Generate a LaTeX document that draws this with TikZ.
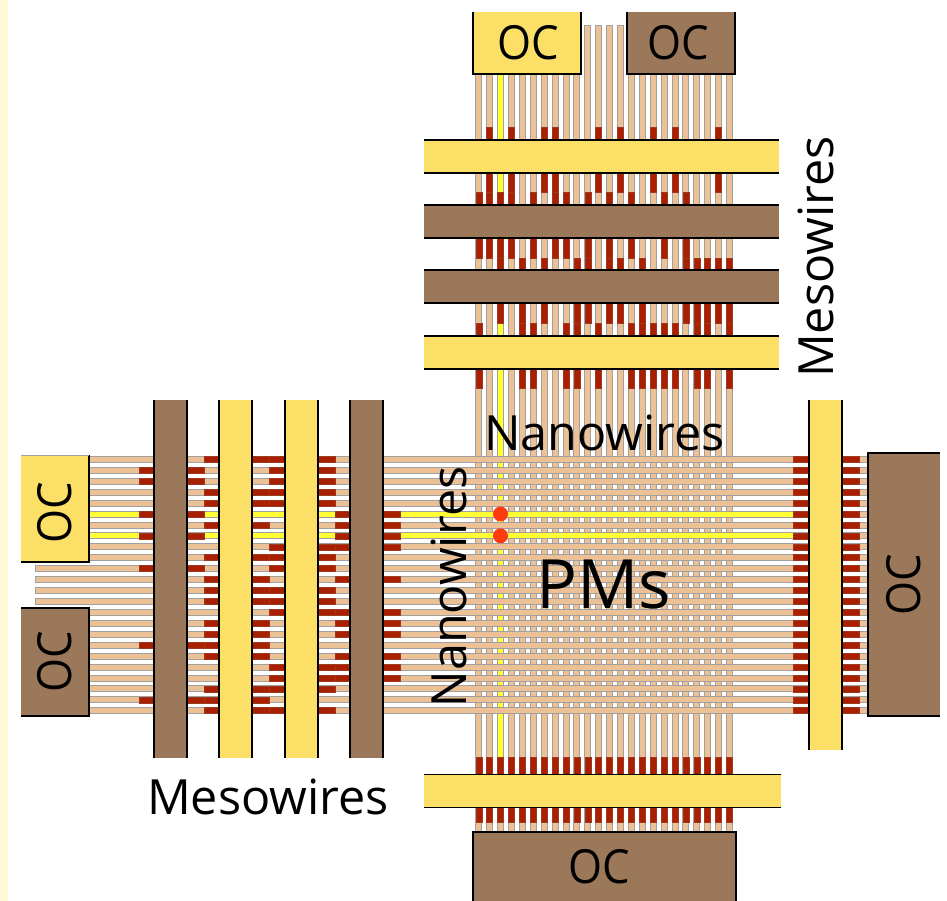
\documentclass[tikz,border=0pt]{standalone}
\usepackage{fontspec}
\usepackage{graphicx}
\setmainfont{Open Sans}
\definecolor{paleback}{HTML}{FFF8D8}
\definecolor{mesoyellow}{HTML}{FBDF66}
\definecolor{mesobrown}{HTML}{9C785A}
\definecolor{wiretan}{HTML}{ECC195}
\definecolor{wiregray}{HTML}{A0A0A0}
\definecolor{dopered}{HTML}{A82000}
\definecolor{litwire}{HTML}{FFFF33}
\definecolor{pmdot}{HTML}{FF3C10}
\tikzset{
  wirebody/.style={fill=wiretan,draw=wiregray,line width=0.7pt},
  litbody/.style={fill=litwire,draw=wiregray,line width=0.7pt},
  dopemark/.style={fill=dopered,draw=dopered!75!gray,line width=0.4pt},
  mesoedge/.style={draw=black,line width=1.8pt},
  ocbox/.style={inner sep=0pt,outer sep=0pt,anchor=north west},
  oclabel/.style={font=\fontsize{47}{50}\selectfont,text=black},
  biglabel/.style={font=\fontsize{48.5}{52}\selectfont,text=black},
}
\newcommand{\octext}{\scalebox{0.93}[1]{OC}}
\newcommand{\wx}[1]{478.7+10.9*#1}
\newcommand{\wy}[1]{459.3+10.93*#1}
\newcommand{\vmarks}[3]{\foreach \i in {#1}{\path[dopemark] ({\wx{\i}-3},#2) rectangle ({\wx{\i}+3},#3);}}
\newcommand{\hmarks}[3]{\foreach \i in {#1}{\path[dopemark] (#2,{\wy{\i}-3}) rectangle (#3,{\wy{\i}+3});}}
\newcommand{\hmeso}[4]{\path[fill=#4] (#1,#2) rectangle (#3,#2+33);
  \draw[mesoedge] (#1,#2) -- (#3,#2); \draw[mesoedge] (#1,#2+33) -- (#3,#2+33);}
\newcommand{\vmeso}[4]{\path[fill=#4] (#1,#2) rectangle (#1+33,#3);
  \draw[mesoedge] (#1,#2) -- (#1,#3); \draw[mesoedge] (#1+33,#2) -- (#1+33,#3);}
\begin{document}
\begin{tikzpicture}[x=1pt,y=-1pt]
\useasboundingbox (0,0) rectangle (947,901);
\fill[white] (0,0) rectangle (947,901);
\fill[paleback] (0,0) rectangle (8,901);
% vertical nanowires
\foreach \i in {0,...,23}{
  \pgfmathsetmacro{\top}{(\i>=10 && \i<=13) ? 25 : 60}
  \path[wirebody] ({\wx{\i}-3},\top) rectangle ({\wx{\i}+3},835);
}
\path[litbody] ({\wx{2}-3},74) rectangle ({\wx{2}+3},757);
% vertical doping marks
\vmarks{1,3,6,7,11,13,16,18,22}{127}{140}
\vmarks{1,3,6,7,11,13,16,18,22}{173}{192}
\vmarks{0,1,2,3,5,7,8,10,12,14,17,19}{192}{205}
\vmarks{0,1,2,3,5,7,8,10,12,14,17,19}{238}{258}
\vmarks{2,4,6,9,10,12,13,15,19,20,21,22,23}{258}{270}
\vmarks{2,4,6,9,10,12,13,15,19,20,21,22,23}{303}{323}
\vmarks{0,4,5,8,9,11,14,15,16,17,18,20,21,23}{323}{336}
\vmarks{0,4,5,8,9,11,14,15,16,17,18,20,21,23}{369}{388}
\vmarks{0,...,23}{757}{774}
\vmarks{0,...,23}{807}{822}
% horizontal nanowires
\foreach \i in {0,...,23}{
  \pgfmathsetmacro{\lft}{(\i>=10 && \i<=13) ? 35 : 60}
  \path[wirebody] (\lft,{\wy{\i}-3}) rectangle (880,{\wy{\i}+3});
}
\path[litbody] (85,{\wy{5}-3}) rectangle (793,{\wy{5}+3});
\path[litbody] (85,{\wy{7}-3}) rectangle (793,{\wy{7}+3});
% horizontal doping marks
\hmarks{1,2,5,7,10,17,22}{139}{154}
\hmarks{1,2,5,7,10,17,22}{187}{204}
\hmarks{0,3,4,6,9,11,12,13,15,16,17,18,21,22,23}{204}{219}
\hmarks{0,3,4,6,9,11,12,13,15,16,17,18,21,22,23}{252}{269}
\hmarks{0,1,2,3,4,8,9,10,12,13,14,19,20,21,23}{269}{285}
\hmarks{0,1,2,3,4,8,9,10,12,13,14,19,20,21,23}{318}{335}
\hmarks{5,6,7,8,11,14,15,16,18,19,20}{335}{350}
\hmarks{5,6,7,8,11,14,15,16,18,19,20}{383}{400}
\hmarks{0,...,23}{793}{809}
\hmarks{0,...,23}{842}{859}
% mesowires
\hmeso{424}{140}{779}{mesoyellow}
\hmeso{424}{205}{779}{mesobrown}
\hmeso{424}{270}{779}{mesobrown}
\hmeso{424}{336}{779}{mesoyellow}
\hmeso{424}{774.5}{781}{mesoyellow}
\vmeso{154}{400}{758}{mesobrown}
\vmeso{219}{400}{758}{mesoyellow}
\vmeso{285}{400}{758}{mesoyellow}
\vmeso{350}{400}{758}{mesobrown}
\vmeso{809}{400}{750}{mesoyellow}
% ohmic contacts
\node[ocbox,fill=mesoyellow,minimum width=108pt,minimum height=62pt] (octl) at (473,12) {};
\node[ocbox,fill=mesobrown,minimum width=108pt,minimum height=62pt] (octr) at (627,12) {};
\node[ocbox,fill=mesoyellow,minimum width=68pt,minimum height=107pt] (ocla) at (21,455) {};
\node[ocbox,fill=mesobrown,minimum width=68pt,minimum height=108pt] (oclb) at (21,608) {};
\node[ocbox,fill=mesobrown,minimum width=72pt,minimum height=263pt] (ocr) at (868,453) {};
\node[ocbox,fill=mesobrown,minimum width=263pt,minimum height=69pt] (ocb) at (473,832) {};
\draw[mesoedge] (octl.north west) -- (octl.south west) -- (octl.south east) -- (octl.north east);
\draw[mesoedge] (octr.north west) -- (octr.south west) -- (octr.south east) -- (octr.north east);
\draw[mesoedge] (ocla.south west) -- (ocla.south east) -- (ocla.north east);
\draw[wiregray,line width=0.8pt] (ocla.north west) -- (ocla.north east);
\draw[mesoedge] (oclb.north west) -- (oclb.north east) -- (oclb.south east) -- (oclb.south west);
\draw[mesoedge] (ocr.north east) -- (ocr.north west) -- (ocr.south west) -- (ocr.south east);
\draw[mesoedge] (ocb.south west) -- (ocb.north west) -- (ocb.north east) -- (ocb.south east);
\node[oclabel] (octltext) at ([shift={(1,0)}]octl.center) {\octext};
\node[oclabel] (octrtext) at ([shift={(-3,0)}]octr.center) {\octext};
\node[oclabel,rotate=90] (oclatext) at ([shift={(0,4)}]ocla.center) {\octext};
\node[oclabel,rotate=90] (oclbtext) at (oclb.center) {\octext};
\node[oclabel,rotate=90] (ocrtext) at (ocr.center) {\octext};
\node[oclabel] (ocbtext) at ([shift={(-5,0)}]ocb.center) {\octext};
% programmed PM dots
\fill[pmdot] ({\wx{2}},{\wy{5}}) circle (7.5);
\fill[pmdot] ({\wx{2}},{\wy{7}}) circle (7.5);
% labels
\node[biglabel] (nanotop) at (604.5,433) {Nanowires};
\node[biglabel,rotate=90] (nanoleft) at (449,587) {Nanowires};
\node[biglabel,rotate=90] (mesoright) at (816,257) {Mesowires};
\node[biglabel] (mesobottom) at (268,797) {Mesowires};
\node[font=\fontsize{68}{72}\selectfont] (pms) at (604,585) {PMs};
\end{tikzpicture}
\end{document}
